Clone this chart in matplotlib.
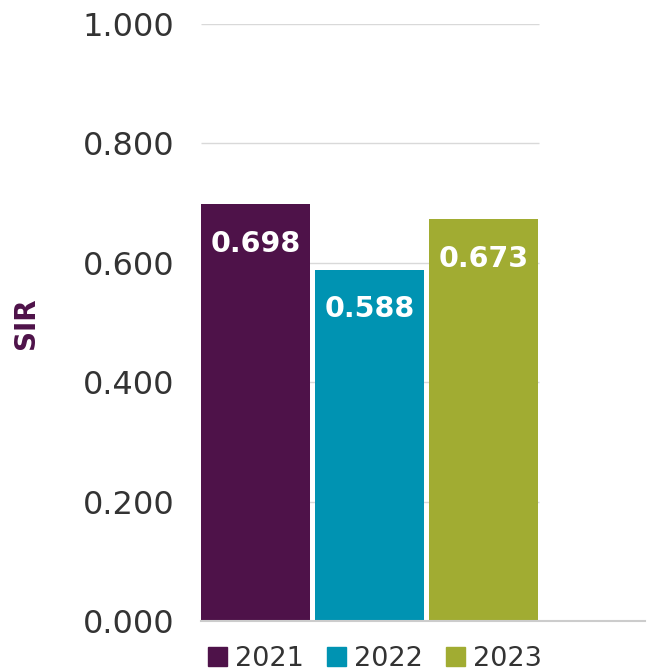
import matplotlib.pyplot as plt
from matplotlib.patches import Patch

years = ["2021", "2022", "2023"]
sir = [0.698, 0.588, 0.673]
colors = ["#4E1249", "#0093B2", "#A1AC32"]
yticks = [0.0, 0.2, 0.4, 0.6, 0.8, 1.0]

plt.rcParams['font.family'] = ['DejaVu Sans']

fig = plt.figure(figsize=(6.47, 6.72), dpi=100)
ax = fig.add_axes([0.3107, 0.0759, 0.6863, 0.8884])

x = list(range(len(years)))
bars = ax.bar(x, sir, width=0.956, color=colors, zorder=2)

# gridlines only span the bars
ax.hlines(yticks[1:], -0.478, 2.49, color="#d9d9d9", lw=1, zorder=1)

for xi, v in zip(x, sir):
    ax.text(xi, v - 0.066, f"{v:.3f}", ha="center", va="center",
            color="white", fontsize=20.5, fontweight="bold", zorder=3)

ax.set_xlim(-0.478, 3.417)
ax.set_ylim(0, 1.0)
ax.set_yticks(yticks)
ax.set_yticklabels([f"{t:.3f}" for t in yticks], fontsize=23, color="#333333")
ax.set_xticks([])
ax.tick_params(axis="y", length=0, pad=19)
for s in ["top", "right", "left"]:
    ax.spines[s].set_visible(False)
ax.spines["bottom"].set_color("#cccccc")
ax.spines["bottom"].set_linewidth(1.5)

fig.text(0.04, 0.519, "SIR", rotation=90, ha="center", va="center",
         fontsize=20, fontweight="bold", color="#4E1249")

handles = [Patch(color=c, label=y) for c, y in zip(colors, years)]
fig.legend(handles=handles, loc="center", bbox_to_anchor=(0.58, 0.02),
           ncol=3, frameon=False, fontsize=19.5, handlelength=0.7,
           handleheight=0.7, handletextpad=0.3, columnspacing=0.85,
           labelcolor="#333333")

fig.savefig("out.png", dpi=100)
